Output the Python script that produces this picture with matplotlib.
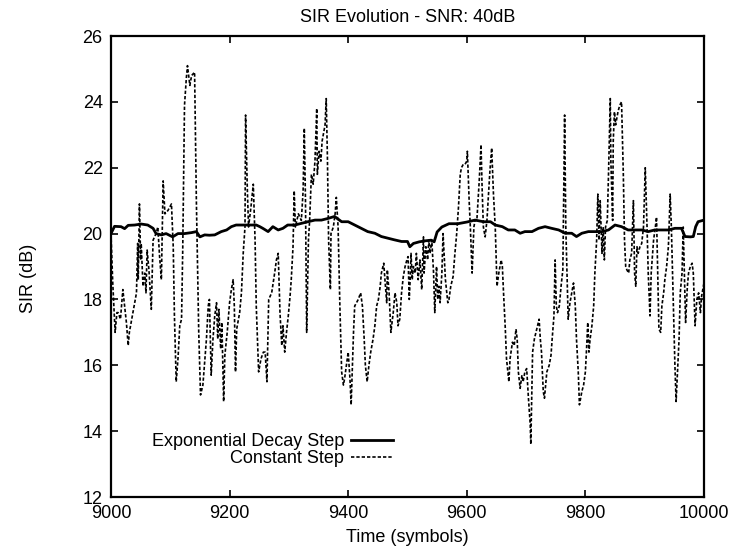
import matplotlib
matplotlib.use("Agg")
import matplotlib.pyplot as plt

plt.rcParams['font.family'] = ['Liberation Sans', 'DejaVu Sans']

# Exponential decay step (solid curve)
exp_t = [9000, 9006, 9017, 9023, 9029, 9040, 9051, 9062, 9071, 9076, 9085, 9093,
         9104, 9113, 9124, 9136, 9144, 9150, 9158, 9166, 9175, 9186, 9195, 9203,
         9211, 9220, 9228, 9237, 9245, 9251, 9256, 9265, 9273, 9282, 9290, 9298,
         9310, 9321, 9332, 9344, 9355, 9366, 9377, 9389, 9400, 9411, 9422, 9433,
         9445, 9456, 9467, 9478, 9490, 9500, 9504, 9510, 9520, 9530, 9540, 9545,
         9550, 9558, 9570, 9585, 9600, 9614, 9628, 9640, 9648, 9660, 9670, 9681,
         9690, 9698, 9710, 9721, 9732, 9743, 9755, 9766, 9777, 9785, 9794, 9805,
         9816, 9828, 9839, 9850, 9861, 9872, 9884, 9895, 9906, 9917, 9929, 9940,
         9951, 9962, 9968, 9977, 9982, 9986, 9990, 10000]
exp_sir = [20.0, 20.22, 20.21, 20.15, 20.25, 20.26, 20.29, 20.26, 20.16, 20.0, 19.96, 20.0,
           19.9, 20.0, 20.0, 20.03, 20.06, 19.9, 19.96, 19.95, 19.96, 20.06, 20.11, 20.21,
           20.26, 20.26, 20.26, 20.26, 20.26, 20.21, 20.16, 20.06, 20.21, 20.11, 20.16, 20.26,
           20.26, 20.31, 20.36, 20.41, 20.41, 20.46, 20.52, 20.36, 20.36, 20.26, 20.16, 20.06,
           20.01, 19.91, 19.86, 19.81, 19.76, 19.76, 19.6, 19.7, 19.75, 19.78, 19.8, 19.75,
           20.05, 20.2, 20.3, 20.3, 20.35, 20.41, 20.36, 20.36, 20.26, 20.21, 20.11, 20.11,
           20.01, 20.06, 20.06, 20.16, 20.21, 20.16, 20.11, 20.01, 20.01, 19.91, 20.01, 20.06,
           20.06, 20.06, 20.11, 20.26, 20.21, 20.11, 20.11, 20.11, 20.06, 20.11, 20.11, 20.11,
           20.16, 20.16, 19.91, 19.9, 19.91, 20.21, 20.36, 20.41]

# Constant step (dashed curve)
const_t = [9000, 9003, 9007, 9010, 9012, 9016, 9020, 9023, 9026, 9029, 9031, 9036,
           9040, 9043, 9045, 9046, 9048, 9050, 9051, 9054, 9057, 9059, 9061, 9064,
           9067, 9068, 9071, 9076, 9079, 9082, 9085, 9088, 9091, 9096, 9102, 9105,
           9107, 9110, 9113, 9116, 9119, 9121, 9124, 9127, 9129, 9133, 9136, 9141,
           9144, 9148, 9151, 9155, 9161, 9164, 9166, 9169, 9172, 9175, 9178, 9180,
           9182, 9185, 9187, 9190, 9192, 9196, 9200, 9203, 9206, 9208, 9210, 9212,
           9217, 9220, 9223, 9226, 9227, 9230, 9232, 9236, 9240, 9243, 9245, 9249,
           9253, 9257, 9260, 9263, 9266, 9271, 9276, 9279, 9282, 9285, 9288, 9290,
           9293, 9296, 9299, 9302, 9304, 9307, 9309, 9311, 9316, 9321, 9324, 9326,
           9328, 9330, 9333, 9335, 9338, 9341, 9344, 9347, 9348, 9351, 9354, 9356,
           9361, 9363, 9365, 9367, 9370, 9371, 9375, 9378, 9380, 9383, 9386, 9389,
           9392, 9394, 9397, 9400, 9403, 9405, 9409, 9411, 9414, 9417, 9421, 9424,
           9427, 9429, 9432, 9435, 9438, 9442, 9445, 9448, 9451, 9454, 9456, 9460,
           9462, 9465, 9466, 9469, 9472, 9476, 9479, 9482, 9484, 9487, 9490, 9493,
           9496, 9499, 9501, 9503, 9505, 9506, 9508, 9510, 9513, 9515, 9518, 9521,
           9524, 9527, 9528, 9531, 9534, 9536, 9538, 9541, 9544, 9546, 9549, 9551,
           9553, 9555, 9558, 9560, 9562, 9564, 9568, 9570, 9573, 9577, 9580, 9583,
           9586, 9589, 9591, 9594, 9597, 9600, 9601, 9604, 9606, 9609, 9612, 9614,
           9617, 9621, 9624, 9626, 9628, 9631, 9634, 9636, 9639, 9642, 9645, 9648,
           9651, 9654, 9658, 9660, 9662, 9665, 9667, 9671, 9673, 9677, 9680, 9683,
           9685, 9687, 9690, 9693, 9695, 9698, 9701, 9704, 9707, 9708, 9711, 9714,
           9718, 9722, 9724, 9726, 9729, 9731, 9735, 9739, 9742, 9744, 9747, 9749,
           9751, 9753, 9756, 9759, 9762, 9765, 9767, 9769, 9771, 9774, 9777, 9780,
           9783, 9785, 9788, 9790, 9794, 9797, 9800, 9802, 9804, 9806, 9808, 9811,
           9814, 9816, 9819, 9821, 9823, 9825, 9828, 9830, 9832, 9834, 9837, 9839,
           9842, 9843, 9846, 9847, 9849, 9851, 9855, 9858, 9861, 9864, 9866, 9868,
           9870, 9873, 9875, 9878, 9881, 9883, 9885, 9887, 9889, 9892, 9895, 9898,
           9901, 9904, 9906, 9909, 9911, 9913, 9915, 9918, 9920, 9922, 9924, 9927,
           9929, 9932, 9934, 9937, 9940, 9943, 9945, 9947, 9949, 9951, 9953, 9956,
           9958, 9960, 9963, 9965, 9967, 9969, 9972, 9974, 9977, 9980, 9982, 9985,
           9988, 9991, 9994, 9996, 9999, 10000]
const_sir = [20.0, 18.5, 17.0, 17.6, 17.6, 17.4, 18.3, 17.8, 17.3, 16.6, 17.0, 17.5,
             17.9, 18.2, 19.7, 18.6, 20.9, 19.2, 19.7, 18.4, 18.8, 18.2, 19.5, 18.9,
             18.0, 17.7, 19.8, 20.0, 20.2, 19.3, 18.6, 21.6, 20.6, 20.7, 20.9, 19.6,
             17.5, 15.5, 16.2, 17.2, 17.4, 19.5, 23.9, 24.7, 25.1, 24.5, 24.8, 24.9,
             21.0, 17.0, 15.1, 15.4, 16.8, 17.8, 18.0, 15.7, 16.8, 17.5, 17.9, 16.8,
             17.7, 16.5, 17.3, 14.9, 16.3, 17.0, 17.9, 18.3, 18.6, 17.8, 15.8, 17.1,
             17.6, 18.2, 19.4, 20.2, 23.6, 21.3, 20.2, 20.8, 21.5, 19.8, 17.8, 15.8,
             16.2, 16.4, 16.4, 15.5, 18.0, 18.2, 18.8, 19.2, 19.4, 17.6, 16.6, 17.2,
             16.4, 17.0, 17.5, 18.1, 18.6, 19.6, 21.3, 20.2, 20.6, 20.4, 21.3, 23.2,
             21.0, 17.0, 19.8, 20.4, 21.8, 21.5, 22.2, 23.8, 21.8, 22.5, 22.2, 22.8,
             23.3, 24.1, 22.3, 19.8, 18.3, 20.0, 20.2, 20.6, 21.1, 20.2, 17.8, 15.8,
             15.4, 15.6, 16.0, 16.4, 15.6, 14.8, 17.0, 17.8, 17.9, 18.0, 18.2, 17.8,
             16.8, 16.0, 15.5, 16.0, 16.4, 16.8, 17.2, 17.8, 18.0, 18.4, 18.8, 19.1,
             18.6, 17.9, 18.9, 18.2, 17.0, 17.6, 18.2, 17.9, 17.2, 17.4, 18.2, 18.7,
             19.0, 19.2, 19.3, 18.0, 18.8, 19.4, 18.6, 19.0, 18.8, 19.4, 18.6, 19.2,
             18.3, 19.9, 18.8, 19.6, 19.2, 19.8, 19.4, 19.8, 18.8, 17.6, 19.0, 18.0,
             18.4, 17.9, 18.8, 20.0, 19.3, 18.6, 17.9, 18.0, 18.4, 18.7, 19.4, 20.0,
             20.8, 21.8, 22.0, 22.1, 22.1, 22.2, 22.5, 21.0, 20.2, 18.8, 20.2, 20.4,
             20.4, 21.6, 22.7, 21.3, 20.2, 19.9, 20.4, 21.0, 21.9, 22.6, 21.2, 20.2,
             18.4, 18.8, 19.2, 19.0, 18.2, 17.1, 16.2, 15.5, 16.2, 16.7, 16.6, 17.1,
             16.8, 15.8, 15.3, 15.7, 15.5, 15.8, 15.9, 15.0, 14.2, 13.6, 16.4, 16.8,
             17.1, 17.4, 16.8, 16.4, 15.2, 15.0, 15.8, 16.0, 16.3, 16.8, 17.5, 19.2,
             17.8, 17.6, 17.8, 18.4, 18.9, 23.6, 20.2, 18.8, 17.4, 17.9, 18.2, 18.5,
             17.8, 16.8, 15.8, 14.8, 15.2, 15.4, 15.8, 16.5, 17.3, 16.4, 16.8, 17.2,
             17.8, 18.8, 19.8, 21.2, 19.8, 21.0, 19.4, 20.2, 19.2, 20.2, 20.4, 21.8,
             24.1, 22.2, 20.4, 22.8, 23.7, 23.3, 23.7, 23.9, 24.0, 21.8, 19.8, 19.0,
             18.9, 18.8, 19.2, 19.4, 21.0, 18.8, 18.4, 19.6, 19.4, 19.6, 19.7, 20.2,
             22.0, 20.2, 18.8, 17.5, 18.8, 19.3, 19.8, 20.2, 20.5, 18.8, 17.1, 17.0,
             17.8, 18.2, 18.6, 19.0, 19.6, 21.2, 20.2, 18.8, 17.4, 16.0, 14.9, 16.0,
             16.8, 18.2, 18.8, 20.2, 18.8, 17.3, 18.4, 18.8, 19.0, 19.1, 18.8, 17.2,
             18.0, 18.2, 17.6, 18.1, 18.4, 18.5]

xticks = [9000, 9200, 9400, 9600, 9800, 10000]
yticks = [12, 14, 16, 18, 20, 22, 24, 26]

fig = plt.figure(figsize=(7.33, 5.49), dpi=100)
ax = fig.add_axes([0.1514, 0.0947, 0.809, 0.8397])

ax.plot(exp_t, exp_sir, color='black', linewidth=2.0, label='Exponential Decay Step')
ax.plot(const_t, const_sir, color='black', linewidth=1.2, dashes=(2.0, 1.2),
        label='Constant Step')

ax.set_xlim(9000, 10000)
ax.set_ylim(12, 26)
ax.set_xticks(xticks)
ax.set_yticks(yticks)
ax.tick_params(direction='in', length=5, width=1.2, top=True, right=True,
               labelsize=13, pad=6)
for s in ax.spines.values():
    s.set_linewidth(1.6)

ax.set_title('SIR Evolution - SNR: 40dB', fontsize=13, pad=10)
ax.set_xlabel('Time (symbols)', fontsize=13)
ax.xaxis.set_label_coords(0.5, -0.07)
ax.set_ylabel('SIR (dB)', fontsize=13)
ax.yaxis.set_label_coords(-0.125, 0.475)

ax.legend(loc='lower right', bbox_to_anchor=(0.475, 0.065), frameon=False,
          markerfirst=False, fontsize=13, handlelength=2.3, handletextpad=0.4,
          labelspacing=0.0, borderpad=0, borderaxespad=0)

fig.savefig('out.png', dpi=100)
